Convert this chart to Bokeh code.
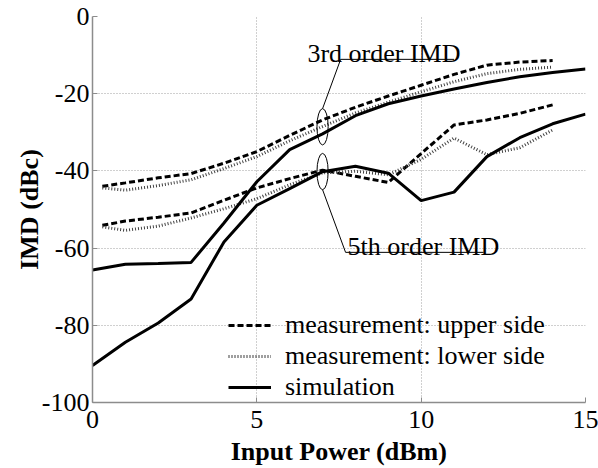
from bokeh.plotting import figure
from bokeh.models import Range1d, FixedTicker, Legend, LegendItem
from bokeh.core.properties import value
from bokeh.embed import file_html
from bokeh.resources import INLINE
import numpy as np

# Input power sweep (dBm)
sim_power = [0, 1, 2, 3, 4, 5, 6, 7, 8, 9, 10, 11, 12, 13, 14, 15]
meas_power = [0.3, 1, 2, 3, 4, 5, 6, 7, 8, 9, 10, 11, 12, 13, 14]

# 3rd order IMD (dBc)
imd3_upper = [-44.0, -43.1, -41.8, -40.7, -38.0, -35.0, -30.8, -26.8, -23.5, -20.6, -17.8, -15.0, -12.6, -11.8, -11.4]
imd3_lower = [-44.4, -45.0, -43.8, -42.3, -39.4, -36.3, -32.2, -28.5, -25.0, -22.2, -19.5, -16.9, -14.8, -13.7, -13.1]
imd3_sim = [-65.7, -64.2, -64.0, -63.7, -53.5, -42.8, -34.5, -30.4, -25.7, -22.6, -20.6, -18.8, -17.1, -15.6, -14.5, -13.6]

# 5th order IMD (dBc)
imd5_upper = [-54.1, -53.0, -52.0, -50.9, -47.6, -44.4, -42.0, -39.8, -41.4, -43.0, -35.5, -28.1, -26.8, -25.1, -22.9]
imd5_lower = [-54.5, -55.4, -54.3, -52.2, -49.8, -47.2, -43.6, -40.5, -40.1, -41.0, -37.0, -31.5, -35.8, -34.0, -29.4]
imd5_sim = [-90.4, -84.4, -79.4, -73.2, -58.4, -48.9, -44.6, -40.2, -38.8, -40.6, -47.7, -45.5, -36.3, -31.4, -27.8, -25.3]

x_ticks = [0, 5, 10, 15]
y_ticks = [-100, -80, -60, -40, -20, 0]
x_tick_labels = ["0", "5", "10", "15"]
y_tick_labels = ["-100", "-80", "-60", "-40", "-20", "0"]

SERIF = "Times New Roman"
FS = "26px"

p = figure(width=598, height=468, output_backend="svg", toolbar_location=None,
           x_range=Range1d(0, 15), y_range=Range1d(-100, 0),
           min_border_left=92, min_border_right=13, min_border_top=16, min_border_bottom=64)
p.outline_line_color = None
p.background_fill_color = "white"
p.border_fill_color = "white"

for ax, ticks, labels in ((p.xaxis, x_ticks, x_tick_labels), (p.yaxis, y_ticks, y_tick_labels)):
    ax.ticker = FixedTicker(ticks=ticks)
    ax.major_label_overrides = {t: l for t, l in zip(ticks, labels)}
    ax.axis_line_color = "#8c8c8c"
    ax.axis_line_width = 1.5
    ax.major_tick_line_color = "#8c8c8c"
    ax.major_tick_in = 5
    ax.major_tick_out = 0
    ax.minor_tick_line_color = None
    ax.major_label_text_font = SERIF
    ax.major_label_text_font_size = FS
    ax.major_label_text_color = "black"
    ax.axis_label_text_font = SERIF
    ax.axis_label_text_font_size = FS
    ax.axis_label_text_font_style = "bold"
    ax.axis_label_text_color = "black"

p.xaxis.axis_label = "Input Power (dBm)"
p.yaxis.axis_label = "IMD (dBc)"
p.xaxis.major_label_standoff = 8
p.xaxis.axis_label_standoff = 6
p.yaxis.major_label_standoff = 3
p.yaxis.axis_label_standoff = -5

for g in (p.xgrid, p.ygrid):
    g.grid_line_color = "#a0a0a0"
    g.grid_line_dash = "1 2"
    g.grid_line_width = 1

DASH = "6 3"
DOT = "1 2"
DOT_COLOR = "#404040"

r_up3 = p.line(meas_power, imd3_upper, line_color="black", line_width=3, line_dash=DASH)
r_up5 = p.line(meas_power, imd5_upper, line_color="black", line_width=3, line_dash=DASH)
r_lo3 = p.line(meas_power, imd3_lower, line_color=DOT_COLOR, line_width=3, line_dash=DOT)
r_lo5 = p.line(meas_power, imd5_lower, line_color=DOT_COLOR, line_width=3, line_dash=DOT)
r_s3 = p.line(sim_power, imd3_sim, line_color="black", line_width=3)
r_s5 = p.line(sim_power, imd5_sim, line_color="black", line_width=3)

# Ellipses marking the 3rd and 5th order bundles at 7 dBm, with leader lines
mark_x = 7
i_m = meas_power.index(mark_x)
i_s = sim_power.index(mark_x)
c3 = float(np.mean([imd3_upper[i_m], imd3_lower[i_m], imd3_sim[i_s]]))
c5 = float(np.mean([imd5_upper[i_m], imd5_lower[i_m], imd5_sim[i_s]]))
ell_w, ell_h = 0.34, 9.4
p.ellipse(x=[mark_x, mark_x], y=[c3, c5], width=ell_w, height=ell_h,
          fill_color=None, line_color="black", line_width=1)

p.line([mark_x, 7.55, 11.0], [c3 + ell_h / 2, -11.1, -11.1], line_color="black", line_width=1)
p.line([mark_x, 7.7, 11.9], [c5 - ell_h / 2, -61.1, -61.1], line_color="black", line_width=1)

p.text(x=[6.54], y=[-9.6], text=["3rd order IMD"], text_font=value(SERIF),
       text_font_size=FS, text_baseline="alphabetic", text_align="left", text_color="black")
p.text(x=[7.76], y=[-59.6], text=["5th order IMD"], text_font=value(SERIF),
       text_font_size=FS, text_baseline="alphabetic", text_align="left", text_color="black")

legend = Legend(items=[
    LegendItem(label="measurement: upper side", renderers=[r_up3]),
    LegendItem(label="measurement: lower side", renderers=[r_lo3]),
    LegendItem(label="simulation", renderers=[r_s3]),
], location=(136, 0))
legend.label_text_font = SERIF
legend.label_text_font_size = FS
legend.label_text_color = "black"
legend.glyph_width = 43
legend.glyph_height = 30
legend.label_height = 30
legend.label_standoff = 14
legend.spacing = 1
legend.padding = 0
legend.margin = 0
legend.border_line_color = None
legend.background_fill_alpha = 0
p.add_layout(legend)

open("out.html", "w").write(file_html(p, INLINE))
